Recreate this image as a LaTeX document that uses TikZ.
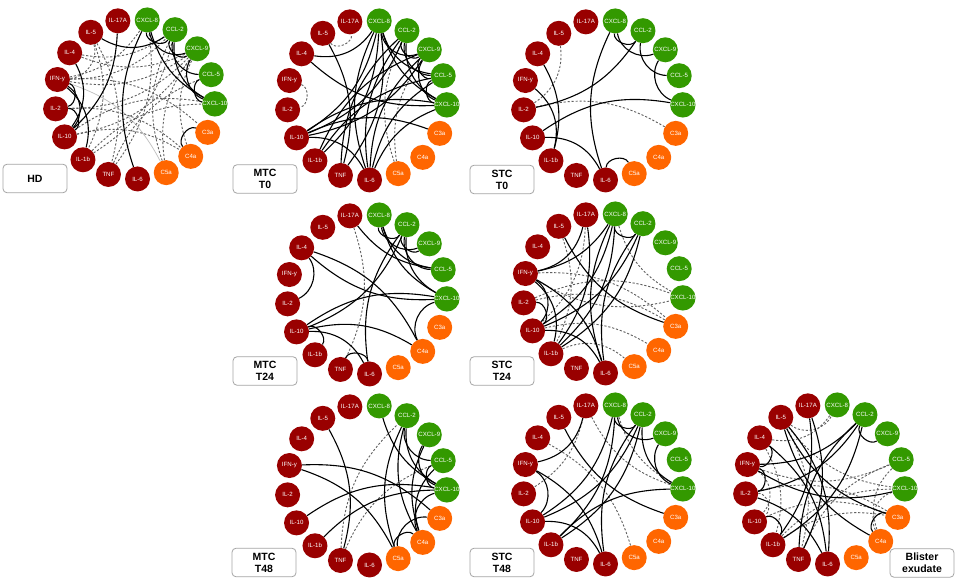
\documentclass[tikz,border=0pt]{standalone}
\usepackage{fontspec}
\setmainfont{Liberation Sans}
\definecolor{cred}{RGB}{153,0,0}
\definecolor{cgreen}{RGB}{51,153,0}
\definecolor{corange}{RGB}{255,102,0}
\definecolor{cdash}{RGB}{95,95,95}
\definecolor{cbox}{RGB}{165,165,165}
\tikzset{
  mol/.style={circle, minimum size=25pt, inner sep=0pt, text=white, font=\fontsize{6.1}{6.5}\selectfont},
  sol/.style={draw=black, line width=1.1pt},
  dsh/.style={draw=cdash, line width=0.9pt, dash pattern=on 2.2pt off 1.8pt},
  lgt/.style={draw=black!25, line width=0.7pt},
  tag/.style={draw=cbox, line width=0.8pt, rounded corners=4pt, fill=white, minimum width=64pt, minimum height=28.5pt, inner sep=1pt, align=center, font=\fontsize{10.5}{12}\selectfont\bfseries},
}
\newcommand\panel[3]{%
  \foreach \k/\nm/\lab/\col in {0/il6/IL-6/cred, 1/c5a/C5a/corange, 2/c4a/C4a/corange, 3/c3a/C3a/corange, 4/x10/CXCL-10/cgreen, 5/l5/CCL-5/cgreen, 6/x9/CXCL-9/cgreen, 7/l2/CCL-2/cgreen, 8/x8/CXCL-8/cgreen, 9/il17/IL-17A/cred, 10/il5/IL-5/cred, 11/il4/IL-4/cred, 12/ifn/IFN-y/cred, 13/il2/IL-2/cred, 14/il10/IL-10/cred, 15/il1b/IL-1b/cred, 16/tnf/TNF/cred}{%
    \expandafter\xdef\csname ix\nm\endcsname{\k}%
    \node[mol, fill=\col] (#1-\nm) at ({#2+80*cos(-88.2+21.176*\k)},{580-#3+80*sin(-88.2+21.176*\k)}) {\lab};
  }%
}
\newcommand\lk[4]{%
  \pgfmathtruncatemacro\dd{mod(\csname ix#4\endcsname-\csname ix#3\endcsname+17,17)}%
  \ifnum\dd<9 \edef\mm{\dd}\else\pgfmathtruncatemacro\mm{17-\dd}\fi
  \ifcase\mm\relax\def\ba{0}\or\def\ba{75}\or\def\ba{50}\or\def\ba{32}\else\def\ba{22}\fi
  \ifnum\dd<9 \draw[#1] (#2-#3) to[bend left=\ba] (#2-#4);%
  \else \draw[#1] (#2-#3) to[bend right=\ba] (#2-#4);\fi}
\newcommand\sL[2]{\foreach \a/\b in {#2}{\lk{sol}{#1}{\a}{\b}}}
\newcommand\dL[2]{\foreach \a/\b in {#2}{\lk{dsh}{#1}{\a}{\b}}}
\begin{document}
\begin{tikzpicture}[x=1pt,y=1pt]
\fill[white] (0,0) rectangle (957,580);
\useasboundingbox (0,0) rectangle (957,580);
\panel{hd}{135}{99}
\panel{m0}{367}{100}
\panel{s0}{603}{100}
\panel{m24}{367}{294}
\panel{s24}{603}{293}
\panel{m48}{367}{485}
\panel{s48}{603}{484}
\panel{bl}{825}{484}
% HD
\lk{lgt}{hd}{ifn}{c5a}
\dL{hd}{il5/tnf, il5/ifn, il5/il1b, il4/x9, il4/l2, ifn/x8, ifn/l2, ifn/x9, ifn/c3a, il2/x9, il2/c4a, il10/x9, il10/x10, il1b/l2, tnf/x8, c5a/l2, c5a/x9, c4a/x9, il10/c4a, il1b/x10, tnf/l5}
\sL{hd}{il5/l2, il17/il10, il4/il10, ifn/il2, ifn/il10, ifn/il1b, il2/il10, x8/il6, x8/l2, x8/x9, l2/x9, x8/x10, l2/x10, x9/x10, l2/l5, l5/x10, c3a/c4a}
% MTC T0
\dL{m0}{il5/il17, ifn/il2, c5a/l2, c5a/x9}
\sL{m0}{il4/x10, il4/x8, il5/tnf, il10/x8, il10/l2, il10/x9, il10/x10, il10/c3a, il10/il6, il1b/x8, il1b/x9, il1b/l5, tnf/x8, tnf/l2, il6/x8, il6/l2, il6/x9, il6/l5, il6/x10, x8/x9, x8/l5, x8/x10, l2/x9, l2/l5, l2/x10, x9/l5, x9/x10, l5/x10}
% STC T0
\dL{s0}{il5/il2, il2/c3a}
\sL{s0}{il4/il1b, ifn/il1b, il2/l2, il10/x10, il10/il6, x8/il6, x8/l2, x8/x9, l2/l5, x9/x10, il6/c5a}
% MTC T24
\dL{m24}{il17/tnf}
\sL{m24}{il4/il2, il4/x10, il4/c4a, il17/l5, il10/l2, il10/x10, il10/c4a, il10/il6, il10/il1b, tnf/il6, il6/l2, x8/l2, x8/x9, x8/l5, x8/x10, l2/x9, l2/l5, l2/x10, x10/c4a}
% STC T24
\dL{s24}{il5/il1b, ifn/x10, ifn/c3a, il2/c3a, il10/c4a, il1b/c5a, x8/x10, il17/il10, il2/x10}
\sL{s24}{il5/c3a, il17/ifn, ifn/x8, ifn/il10, ifn/il6, ifn/il1b, il10/x8, il10/l2, il10/il6, il1b/x8, il1b/l2, il6/x8, il6/l2, x8/l2, il17/il1b, il2/il10}
% MTC T48
\dL{m48}{tnf/l2, tnf/l5}
\sL{m48}{il5/tnf, ifn/c3a, ifn/c5a, il10/x10, il1b/x10, x8/x10, l2/c5a, l2/c4a, l2/l5, l2/x10, x9/c4a, x9/x10, l5/x10, l5/c4a, x10/c4a, c3a/c5a, c4a/c5a}
% STC T48
\dL{s48}{il17/il2, il17/x10, il4/c5a, x8/x10}
\sL{s48}{il5/c3a, il17/ifn, ifn/il10, ifn/il6, il10/x8, il10/l2, il10/il6, il1b/x8, il1b/l2, il1b/x10, il6/l2, x8/l2, x8/x9, l2/x10, x9/x10}
% Blister
\dL{bl}{il4/x8, il5/x10, il5/x8, il4/il1b, il5/tnf, ifn/l5, il2/c3a, il10/c3a, il1b/x10, tnf/l5, c4a/l5, ifn/il10, il2/il10, c4a/x10, il1b/c3a}
\sL{bl}{il17/il1b, il17/tnf, il5/il6, il5/c3a, il5/c4a, il4/ifn, il4/il6, ifn/il2, ifn/l2, ifn/x10, il2/l2, il2/il6, il10/il1b, tnf/l2, il1b/l2, l2/x9, c3a/c4a}
% tags
\node[tag] (tHD) at (35,580-178.5) {HD};
\node[tag] (tM0) at (265,580-179) {MTC\\T0};
\node[tag] (tS0) at (502,580-179.5) {STC\\T0};
\node[tag] (tM24) at (265,580-371) {MTC\\T24};
\node[tag] (tS24) at (502,580-371) {STC\\T24};
\node[tag] (tM48) at (264,580-562.5) {MTC\\T48};
\node[tag] (tS48) at (502,580-562.5) {STC\\T48};
\node[tag] (tBl) at (922,580-563) {Blister\\exudate};
\end{tikzpicture}
\end{document}
